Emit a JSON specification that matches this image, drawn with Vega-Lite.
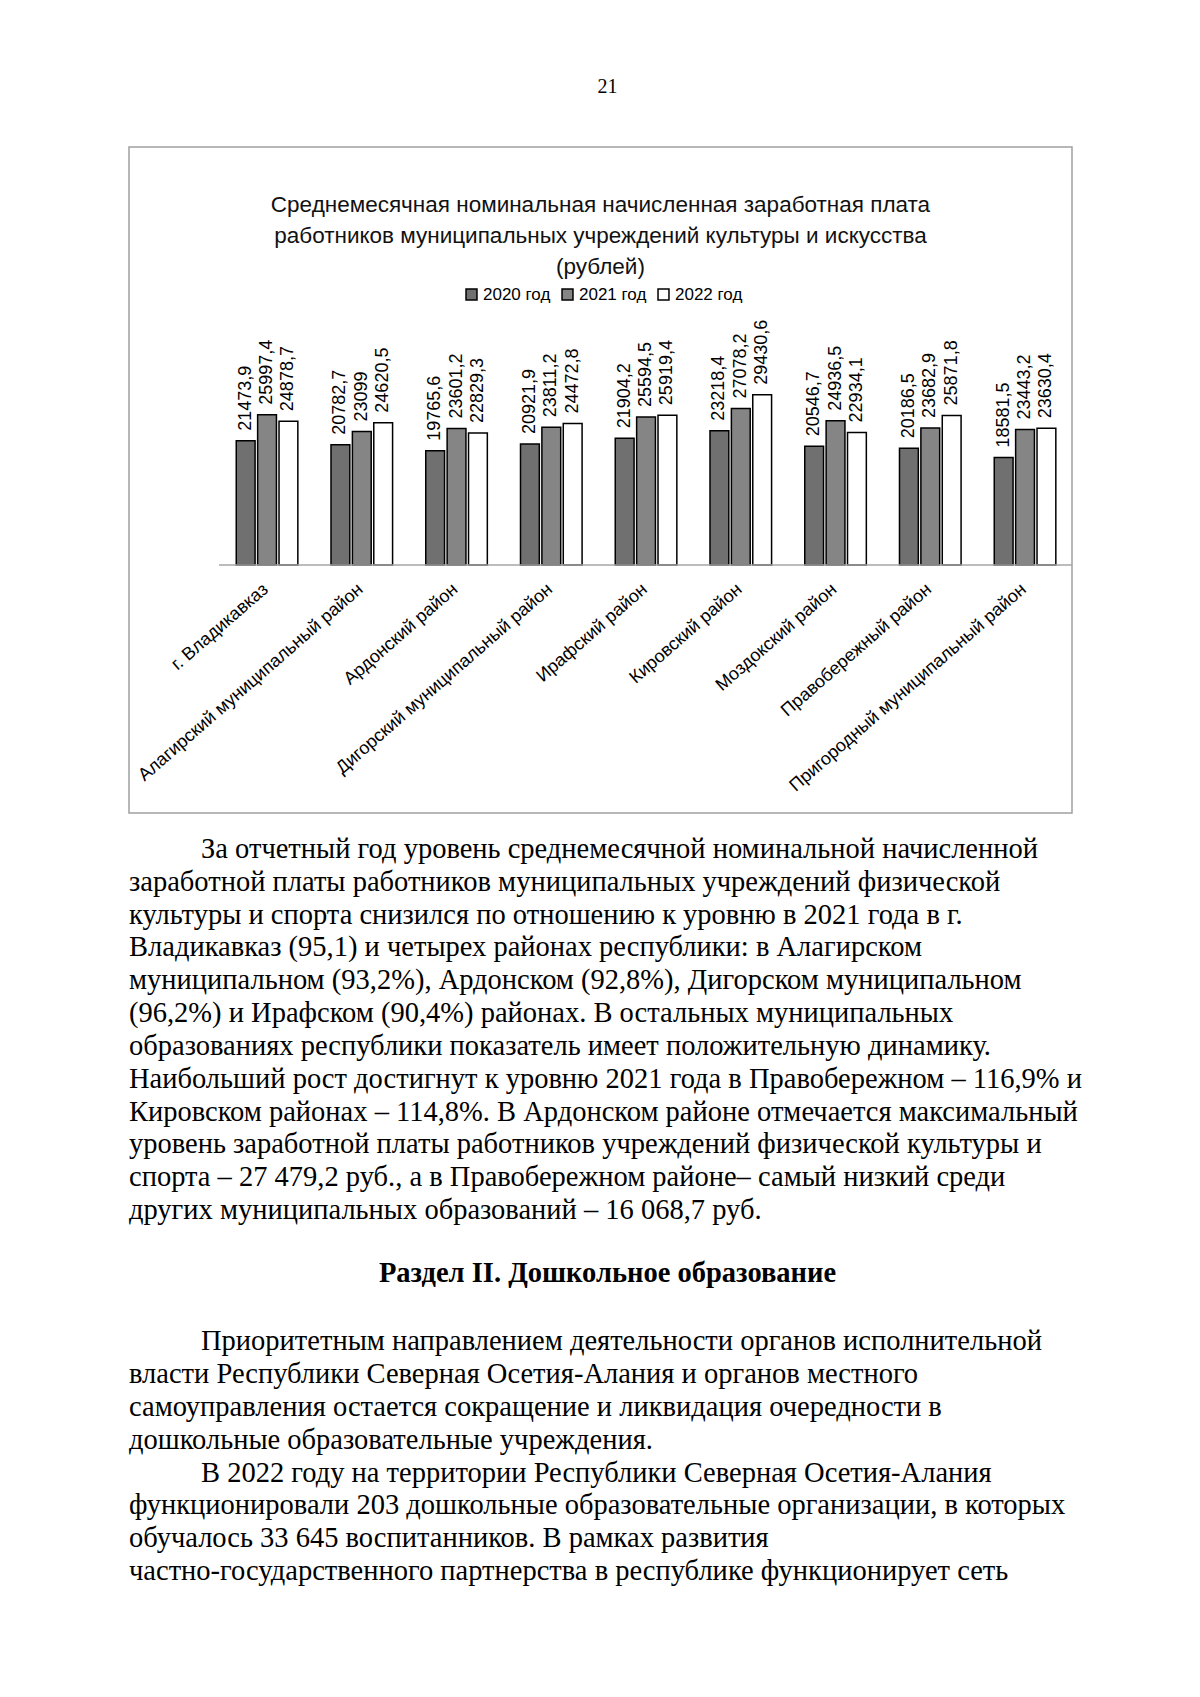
{
  "$schema": "https://vega.github.io/schema/vega-lite/v6.json",
  "padding": {"left": 128, "top": 0, "right": 0, "bottom": 0},
  "spacing": 0,
  "background": "white",
  "config": {
    "view": {"stroke": null},
    "locale": {"number": {"decimal": ",", "thousands": "\u00a0", "grouping": [3], "currency": ["", ""]}}
  },
  "vconcat": [
    {
      "width": 957,
      "height": 146,
      "data": {"values": [{"page": "21"}]},
      "mark": {"type": "text", "font": "Liberation Serif", "fontSize": 20, "dy": 14, "color": "black"},
      "encoding": {"text": {"field": "page"}}
    },
    {
      "width": 943,
      "height": 666,
      "view": {"stroke": "#a0a0a0", "strokeWidth": 1.5},
      "title": {
        "text": ["Среднемесячная номинальная начисленная заработная плата", "работников муниципальных  учреждений культуры и искусства", "(рублей)"],
        "font": "Liberation Sans",
        "fontSize": 22.5,
        "fontWeight": "normal",
        "color": "#111111",
        "anchor": "middle",
        "frame": "group",
        "baseline": "top",
        "lineHeight": 31,
        "offset": -131
      },
      "data": {"values": [
        {"region": "г. Владикавказ", "year": "2020 год", "value": 21473.9},
        {"region": "г. Владикавказ", "year": "2021 год", "value": 25997.4},
        {"region": "г. Владикавказ", "year": "2022 год", "value": 24878.7},
        {"region": "Алагирский муниципальный район", "year": "2020 год", "value": 20782.7},
        {"region": "Алагирский муниципальный район", "year": "2021 год", "value": 23099},
        {"region": "Алагирский муниципальный район", "year": "2022 год", "value": 24620.5},
        {"region": "Ардонский район", "year": "2020 год", "value": 19765.6},
        {"region": "Ардонский район", "year": "2021 год", "value": 23601.2},
        {"region": "Ардонский район", "year": "2022 год", "value": 22829.3},
        {"region": "Дигорский муниципальный район", "year": "2020 год", "value": 20921.9},
        {"region": "Дигорский муниципальный район", "year": "2021 год", "value": 23811.2},
        {"region": "Дигорский муниципальный район", "year": "2022 год", "value": 24472.8},
        {"region": "Ирафский район", "year": "2020 год", "value": 21904.2},
        {"region": "Ирафский район", "year": "2021 год", "value": 25594.5},
        {"region": "Ирафский район", "year": "2022 год", "value": 25919.4},
        {"region": "Кировский район", "year": "2020 год", "value": 23218.4},
        {"region": "Кировский район", "year": "2021 год", "value": 27078.2},
        {"region": "Кировский район", "year": "2022 год", "value": 29430.6},
        {"region": "Моздокский район", "year": "2020 год", "value": 20546.7},
        {"region": "Моздокский район", "year": "2021 год", "value": 24936.5},
        {"region": "Моздокский район", "year": "2022 год", "value": 22934.1},
        {"region": "Правобережный район", "year": "2020 год", "value": 20186.5},
        {"region": "Правобережный район", "year": "2021 год", "value": 23682.9},
        {"region": "Правобережный район", "year": "2022 год", "value": 25871.8},
        {"region": "Пригородный муниципальный район", "year": "2020 год", "value": 18581.5},
        {"region": "Пригородный муниципальный район", "year": "2021 год", "value": 23443.2},
        {"region": "Пригородный муниципальный район", "year": "2022 год", "value": 23630.4}
      ]},
      "layer": [
        {
          "encoding": {
            "x": {
              "field": "region", "type": "nominal",
              "scale": {
                "domain": ["г. Владикавказ", "Алагирский муниципальный район", "Ардонский район", "Дигорский муниципальный район", "Ирафский район", "Кировский район", "Моздокский район", "Правобережный район", "Пригородный муниципальный район"],
                "paddingInner": 0.35, "paddingOuter": 0.6513, "align": 0.869
              },
              "axis": {
                "orient": "bottom", "offset": -248, "labelAngle": -41,
                "labelFont": "Liberation Sans", "labelFontSize": 18, "labelColor": "#000",
                "labelPadding": 15, "labelOffset": -7, "labelLimit": 400, "ticks": false, "domain": false,
                "grid": false, "title": null
              }
            },
            "xOffset": {
              "field": "year", "type": "nominal",
              "scale": {"domain": ["2020 год", "2021 год", "2022 год"], "paddingInner": 0.12}
            },
            "y": {
              "field": "value", "type": "quantitative",
              "scale": {"domain": [-42900, 72300], "nice": false, "zero": false},
              "axis": null
            }
          },
          "layer": [
            {
              "mark": {"type": "bar", "stroke": "black", "strokeWidth": 1.5},
              "encoding": {
                "color": {
                  "field": "year", "type": "nominal",
                  "scale": {"domain": ["2020 год", "2021 год", "2022 год"], "range": ["#707070", "#858585", "#ffffff"]},
                  "legend": {
                    "orient": "none", "legendX": 334, "legendY": 286, "direction": "horizontal",
                    "title": null, "labelFont": "Liberation Sans", "labelFontSize": 17, "labelColor": "#000",
                    "symbolType": "square", "symbolSize": 120, "symbolStrokeColor": "black",
                    "symbolStrokeWidth": 1.5, "columnPadding": 8, "labelOffset": 3
                  }
                }
              }
            },
            {
              "mark": {"type": "text", "angle": 270, "align": "left", "baseline": "middle", "dx": 10, "font": "Liberation Sans", "fontSize": 18, "color": "#000"},
              "encoding": {"text": {"field": "value", "type": "quantitative", "format": ".1~f"}}
            }
          ]
        },
        {
          "data": {"values": [{"level": 0}]},
          "mark": {"type": "rule", "color": "#a6a6a6", "strokeWidth": 1.5},
          "encoding": {
            "x": {"datum": "г. Владикавказ", "type": "nominal", "bandPosition": -0.28},
            "x2": {"datum": "Пригородный муниципальный район", "bandPosition": 1.26},
            "y": {"field": "level", "type": "quantitative"}
          }
        }
      ]
    },
    {
      "width": 957,
      "height": 885,
      "data": {"values": [
        {"line": 1, "kind": "first", "text": "За отчетный год уровень среднемесячной номинальной начисленной"},
        {"line": 2, "kind": "body", "text": "заработной платы работников муниципальных учреждений физической"},
        {"line": 3, "kind": "body", "text": "культуры и спорта снизился по отношению к уровню в 2021 года в г."},
        {"line": 4, "kind": "body", "text": "Владикавказ (95,1) и четырех районах республики: в Алагирском"},
        {"line": 5, "kind": "body", "text": "муниципальном (93,2%), Ардонском (92,8%), Дигорском муниципальном"},
        {"line": 6, "kind": "body", "text": "(96,2%) и Ирафском (90,4%) районах. В остальных муниципальных"},
        {"line": 7, "kind": "body", "text": "образованиях республики показатель имеет положительную динамику."},
        {"line": 8, "kind": "body", "text": "Наибольший рост достигнут к уровню 2021 года в Правобережном – 116,9% и"},
        {"line": 9, "kind": "body", "text": "Кировском районах – 114,8%. В Ардонском районе отмечается максимальный"},
        {"line": 10, "kind": "body", "text": "уровень заработной платы работников учреждений физической культуры и"},
        {"line": 11, "kind": "body", "text": "спорта – 27 479,2 руб., а в Правобережном районе– самый низкий среди"},
        {"line": 12, "kind": "body", "text": "других муниципальных образований – 16 068,7 руб."},
        {"line": 14, "kind": "heading", "text": "Раздел II. Дошкольное образование"},
        {"line": 16, "kind": "first", "text": "Приоритетным направлением деятельности органов исполнительной"},
        {"line": 17, "kind": "body", "text": "власти Республики Северная Осетия-Алания и органов местного"},
        {"line": 18, "kind": "body", "text": "самоуправления остается сокращение и ликвидация очередности в"},
        {"line": 19, "kind": "body", "text": "дошкольные образовательные учреждения."},
        {"line": 20, "kind": "first", "text": "В 2022 году на территории Республики Северная Осетия-Алания"},
        {"line": 21, "kind": "body", "text": "функционировали 203 дошкольные образовательные организации, в которых"},
        {"line": 22, "kind": "body", "text": "обучалось 33 645 воспитанников. В рамках развития"},
        {"line": 23, "kind": "body", "text": "частно-государственного партнерства в республике функционирует сеть"}
      ]},
      "encoding": {
        "y": {"field": "line", "type": "quantitative", "scale": {"domain": [-0.0664, 26.899], "nice": false, "zero": false, "reverse": true}, "axis": null},
        "text": {"field": "text"}
      },
      "layer": [
        {
          "transform": [{"filter": "datum.kind === 'first'"}],
          "mark": {"type": "text", "align": "left", "baseline": "middle", "dx": 72, "font": "Liberation Serif", "fontSize": 28.5, "color": "#000"},
          "encoding": {"x": {"datum": 0, "type": "quantitative", "scale": {"domain": [0, 1]}, "axis": null}}
        },
        {
          "transform": [{"filter": "datum.kind === 'body'"}],
          "mark": {"type": "text", "align": "left", "baseline": "middle", "font": "Liberation Serif", "fontSize": 28.5, "color": "#000"},
          "encoding": {"x": {"datum": 0, "type": "quantitative", "scale": {"domain": [0, 1]}, "axis": null}}
        },
        {
          "transform": [{"filter": "datum.kind === 'heading'"}],
          "mark": {"type": "text", "align": "center", "baseline": "middle", "dy": -3, "font": "Liberation Serif", "fontSize": 28.5, "fontWeight": "bold", "color": "#000"},
          "encoding": {"x": {"datum": 0.5, "type": "quantitative", "scale": {"domain": [0, 1]}, "axis": null}}
        }
      ]
    }
  ]
}
